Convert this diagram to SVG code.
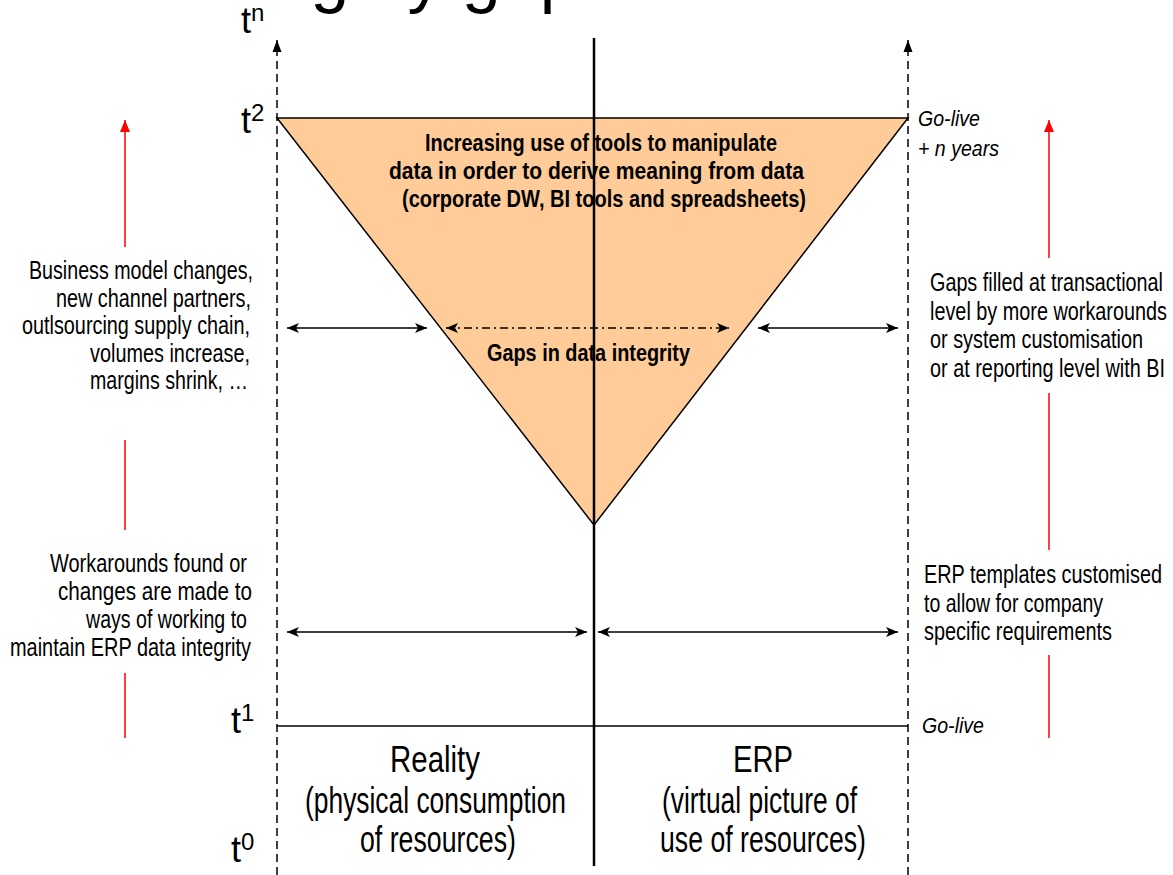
<svg xmlns="http://www.w3.org/2000/svg" width="1173" height="875" viewBox="0 0 1173 875">
<style>
.t{font-family:"Liberation Sans",Arial,sans-serif;font-size:25px;fill:#000}
.b{font-family:"Liberation Sans",Arial,sans-serif;font-size:24px;font-weight:bold;fill:#000}
.i{font-family:"Liberation Sans",Arial,sans-serif;font-size:22px;font-style:italic;fill:#000}
.big{font-family:"Liberation Sans",Arial,sans-serif;font-size:36px;fill:#000}
.sup{font-family:"Liberation Sans",Arial,sans-serif;font-size:24px;fill:#000}
.axis{stroke:#000;stroke-width:1.5;stroke-dasharray:8,5;fill:none}
.dbl{stroke:#000;stroke-width:1.5;fill:none;marker-start:url(#ah);marker-end:url(#ah)}
.red{stroke:#FF0000;stroke-width:1.5;fill:none}
</style>
<defs>
<marker id="ah" markerUnits="userSpaceOnUse" markerWidth="14" markerHeight="12" refX="12" refY="5" orient="auto-start-reverse" viewBox="0 0 14 10">
<path d="M0,0 L12,5 L0,10 L3,5 z" fill="#000"/>
</marker>
<marker id="ax" markerUnits="userSpaceOnUse" markerWidth="14" markerHeight="12" refX="12" refY="5" orient="auto" viewBox="0 0 14 10">
<path d="M0,0.5 L12,5 L0,9.5 z" fill="#000"/>
</marker>
<marker id="rh" markerUnits="userSpaceOnUse" markerWidth="14" markerHeight="12" refX="12" refY="5" orient="auto" viewBox="0 0 14 10">
<path d="M0,0 L12,5 L0,10 z" fill="#FF0000"/>
</marker>
</defs>
<rect width="1173" height="875" fill="#fff"/>

<g id="title">
<text x="30" y="-1.5" style="font-family:'Liberation Sans',Arial,sans-serif;font-size:70px">Data integrity gaps widen over time</text>
</g>

<g id="gap-triangle">
<polygon points="277,118 908,118 594,525" fill="#FFCC99" stroke="#000" stroke-width="1.5" stroke-linejoin="miter"/>
</g>

<g id="axes">
<line class="axis" x1="277" y1="875" x2="277" y2="40" marker-end="url(#ax)"/>
<line class="axis" x1="908" y1="875" x2="908" y2="40" marker-end="url(#ax)"/>
<line x1="594" y1="38" x2="594" y2="866" stroke="#000" stroke-width="2.5"/>
<line x1="277" y1="726" x2="908" y2="726" stroke="#000" stroke-width="1.5"/>
</g>

<g id="time-labels">
<text class="big" x="241" y="33">t<tspan class="sup" dy="-12">n</tspan></text>
<text class="big" x="241" y="133">t<tspan class="sup" dy="-12">2</tspan></text>
<text class="big" x="231" y="733">t<tspan class="sup" dy="-12">1</tspan></text>
<text class="big" x="231" y="862">t<tspan class="sup" dy="-12">0</tspan></text>
</g>

<g id="golive-labels">
<text class="i" x="918" y="126" textLength="62" lengthAdjust="spacingAndGlyphs">Go-live</text>
<text class="i" x="918" y="156" textLength="81" lengthAdjust="spacingAndGlyphs">+ n years</text>
<text class="i" x="922" y="733" textLength="62" lengthAdjust="spacingAndGlyphs">Go-live</text>
</g>

<g id="triangle-text">
<text class="b" x="425" y="151" textLength="352" lengthAdjust="spacingAndGlyphs">Increasing use of tools to manipulate</text>
<text class="b" x="389" y="179" textLength="415" lengthAdjust="spacingAndGlyphs">data in order to derive meaning from data</text>
<text class="b" x="402" y="207" textLength="404" lengthAdjust="spacingAndGlyphs">(corporate DW, BI tools and spreadsheets)</text>
<text class="b" x="487" y="361" textLength="203" lengthAdjust="spacingAndGlyphs">Gaps in data integrity</text>
</g>

<g id="left-upper-text">
<text class="t" x="29" y="279" textLength="224" lengthAdjust="spacingAndGlyphs">Business model changes,</text>
<text class="t" x="56" y="307" textLength="195" lengthAdjust="spacingAndGlyphs">new channel partners,</text>
<text class="t" x="22" y="334" textLength="228" lengthAdjust="spacingAndGlyphs">outlsourcing supply chain,</text>
<text class="t" x="90" y="362" textLength="160" lengthAdjust="spacingAndGlyphs">volumes increase,</text>
<text class="t" x="90" y="389" textLength="158" lengthAdjust="spacingAndGlyphs">margins shrink, …</text>
</g>

<g id="left-lower-text">
<text class="t" x="50" y="572" textLength="197" lengthAdjust="spacingAndGlyphs">Workarounds found or</text>
<text class="t" x="58" y="600" textLength="194" lengthAdjust="spacingAndGlyphs">changes are made to</text>
<text class="t" x="86" y="628" textLength="161" lengthAdjust="spacingAndGlyphs">ways of working to</text>
<text class="t" x="10" y="656" textLength="241" lengthAdjust="spacingAndGlyphs">maintain ERP data integrity</text>
</g>

<g id="right-upper-text">
<text class="t" x="930" y="291" textLength="233" lengthAdjust="spacingAndGlyphs">Gaps filled at transactional</text>
<text class="t" x="930" y="320" textLength="237" lengthAdjust="spacingAndGlyphs">level by more workarounds</text>
<text class="t" x="930" y="348" textLength="213" lengthAdjust="spacingAndGlyphs">or system customisation</text>
<text class="t" x="930" y="377" textLength="235" lengthAdjust="spacingAndGlyphs">or at reporting level with BI</text>
</g>

<g id="right-lower-text">
<text class="t" x="924" y="583" textLength="238" lengthAdjust="spacingAndGlyphs">ERP templates customised</text>
<text class="t" x="924" y="612" textLength="179" lengthAdjust="spacingAndGlyphs">to allow for company</text>
<text class="t" x="924" y="640" textLength="188" lengthAdjust="spacingAndGlyphs">specific requirements</text>
</g>

<g id="reality-label">
<text class="big" x="390" y="772" textLength="90" lengthAdjust="spacingAndGlyphs">Reality</text>
<text class="big" x="305" y="813" textLength="261" lengthAdjust="spacingAndGlyphs">(physical consumption</text>
<text class="big" x="360" y="852" textLength="156" lengthAdjust="spacingAndGlyphs">of resources)</text>
</g>

<g id="erp-label">
<text class="big" x="733" y="772" textLength="60" lengthAdjust="spacingAndGlyphs">ERP</text>
<text class="big" x="662" y="813" textLength="195" lengthAdjust="spacingAndGlyphs">(virtual picture of</text>
<text class="big" x="660" y="852" textLength="206" lengthAdjust="spacingAndGlyphs">use of resources)</text>
</g>

<g id="connectors">
<line class="dbl" x1="287" y1="328" x2="427" y2="328"/>
<line class="dbl" x1="446" y1="328" x2="729" y2="328" stroke-dasharray="8,4,2,4"/>
<line class="dbl" x1="758" y1="328" x2="898" y2="328"/>
<line class="dbl" x1="287" y1="632" x2="587" y2="632"/>
<line class="dbl" x1="598" y1="632" x2="898" y2="632"/>
<line class="red" x1="125" y1="247" x2="125" y2="120" marker-end="url(#rh)"/>
<line class="red" x1="125" y1="440" x2="125" y2="530"/>
<line class="red" x1="125" y1="673" x2="125" y2="738"/>
<line class="red" x1="1049" y1="258" x2="1049" y2="120" marker-end="url(#rh)"/>
<line class="red" x1="1049" y1="393" x2="1049" y2="550"/>
<line class="red" x1="1049" y1="655" x2="1049" y2="738"/>
</g>
</svg>
